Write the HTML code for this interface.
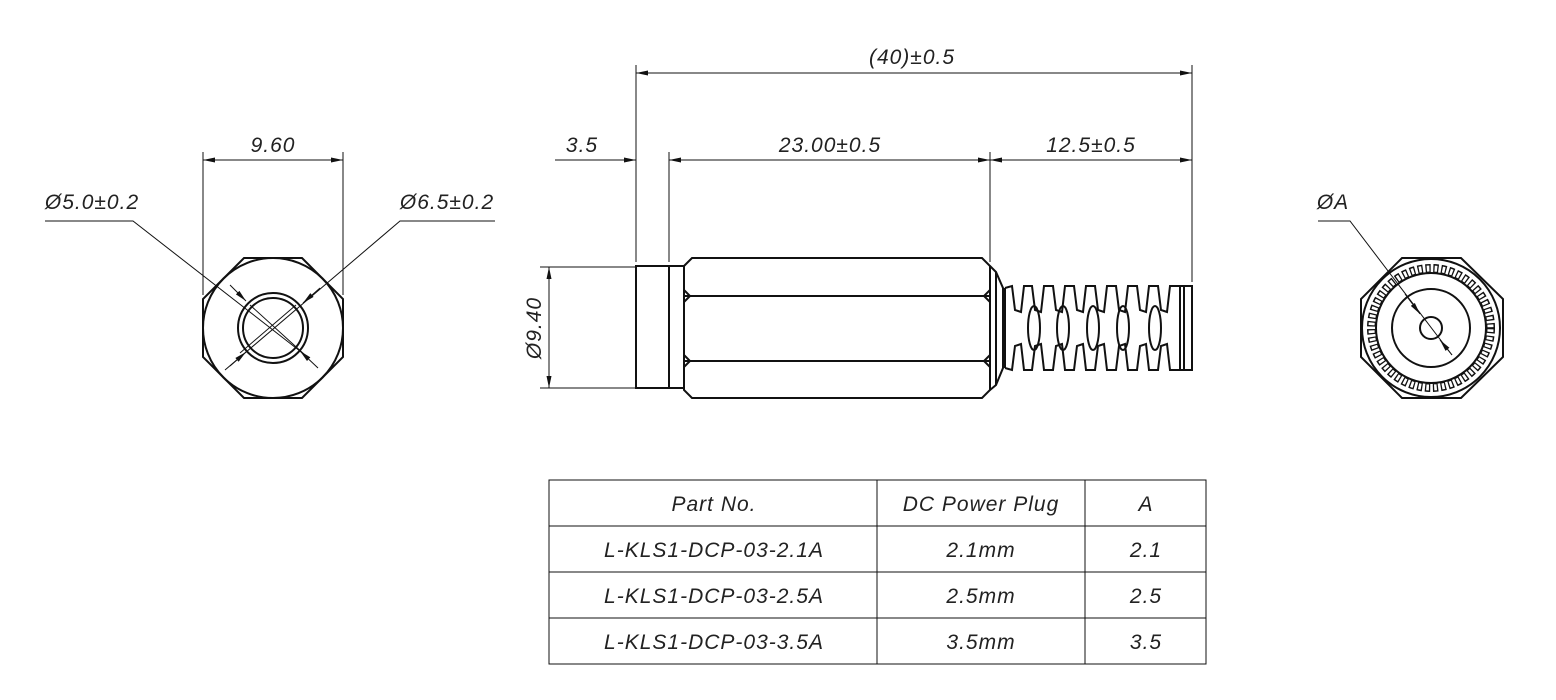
<!DOCTYPE html>
<html><head><meta charset="utf-8"><style>
html,body{margin:0;padding:0;background:#fff;width:1556px;height:700px;overflow:hidden}
svg text{font-family:"Liberation Sans",sans-serif;font-style:italic;font-size:21px;fill:#222;font-weight:normal;letter-spacing:1px}
</style></head><body>
<svg width="1556" height="700" viewBox="0 0 1556 700" xmlns="http://www.w3.org/2000/svg">
<defs>
<marker id="ar" viewBox="0 0 12 6" refX="12" refY="3" markerWidth="12" markerHeight="6" orient="auto-start-reverse" markerUnits="userSpaceOnUse"><path d="M0,0.5 L12,3 L0,5.5z" fill="#111"/></marker>
</defs>
<g stroke="#111" fill="none" stroke-width="1">
<line x1="636" y1="65" x2="636" y2="262"/>
<line x1="1192" y1="65" x2="1192" y2="282"/>
<line x1="669" y1="152" x2="669" y2="262"/>
<line x1="990" y1="152" x2="990" y2="262"/>
<line x1="636" y1="73" x2="1192" y2="73" marker-start="url(#ar)" marker-end="url(#ar)"/>
<line x1="555" y1="160" x2="636" y2="160" marker-end="url(#ar)"/>
<line x1="669" y1="160" x2="990" y2="160" marker-start="url(#ar)" marker-end="url(#ar)"/>
<line x1="990" y1="160" x2="1192" y2="160" marker-start="url(#ar)" marker-end="url(#ar)"/>
<line x1="540" y1="267" x2="636" y2="267"/>
<line x1="540" y1="388" x2="636" y2="388"/>
<line x1="549" y1="267" x2="549" y2="388" marker-start="url(#ar)" marker-end="url(#ar)"/>
<line x1="203" y1="152" x2="203" y2="295"/>
<line x1="343" y1="152" x2="343" y2="295"/>
<line x1="203" y1="160" x2="343" y2="160" marker-start="url(#ar)" marker-end="url(#ar)"/>
<polyline points="45,221 133,221 305,355"/>
<polyline points="495,221 400,221 225,370"/>
<line x1="320" y1="288" x2="303" y2="303" marker-end="url(#ar)"/>
<line x1="230" y1="366" x2="246" y2="352" marker-end="url(#ar)"/>
<line x1="318" y1="368" x2="300" y2="351" marker-end="url(#ar)"/>
<line x1="230" y1="285" x2="246" y2="301" marker-end="url(#ar)"/>
<polyline points="1318,221 1350,221 1452,355"/>
<line x1="1405" y1="294" x2="1420" y2="314" marker-end="url(#ar)"/>
<line x1="1452" y1="355" x2="1440" y2="340" marker-end="url(#ar)"/>
</g>
<g stroke="#111" fill="none" stroke-width="2">
<polygon points="244,258 302,258 343,299 343,357 302,398 244,398 203,357 203,299"/>
<circle cx="273" cy="328" r="70"/>
<circle cx="273" cy="328" r="35"/>
<circle cx="273" cy="328" r="30"/>
</g>
<g stroke="#111" fill="none" stroke-width="1">
<line x1="250" y1="305" x2="305" y2="355"/>
<line x1="296" y1="305" x2="240" y2="353"/>
</g>
<g stroke="#111" fill="none" stroke-width="2">
<rect x="636" y="266" width="48" height="122"/>
<line x1="669" y1="266" x2="669" y2="388"/>
<polygon points="684,266 692,258 982,258 990,266 990,390 982,398 692,398 684,390"/>
<line x1="684" y1="296" x2="990" y2="296"/>
<line x1="684" y1="361" x2="990" y2="361"/>
<polyline points="684,290 690,296 684,302"/>
<polyline points="990,290 984,296 990,302"/>
<polyline points="684,355 690,361 684,367"/>
<polyline points="990,355 984,361 990,367"/>
<polyline points="990,266 996,272 1003,288 1003,368 996,385 990,390"/>
<line x1="996" y1="272" x2="996" y2="385"/>
<path d="M1005,288 L1012,286 L1015,310 L1021,312 L1024,286 L1032,286 L1035,310 L1041,312 L1044,286 L1053,286 L1056,310 L1062,312 L1065,286 L1074,286 L1077,310 L1083,312 L1086,286 L1095,286 L1098,310 L1104,312 L1107,286 L1116,286 L1119,310 L1125,312 L1128,286 L1137,286 L1140,310 L1146,312 L1149,286 L1158,286 L1161,310 L1167,312 L1170,286 L1180,286"/>
<path d="M1005,368 L1012,370 L1015,346 L1021,344 L1024,370 L1032,370 L1035,346 L1041,344 L1044,370 L1053,370 L1056,346 L1062,344 L1065,370 L1074,370 L1077,346 L1083,344 L1086,370 L1095,370 L1098,346 L1104,344 L1107,370 L1116,370 L1119,346 L1125,344 L1128,370 L1137,370 L1140,346 L1146,344 L1149,370 L1158,370 L1161,346 L1167,344 L1170,370 L1180,370"/>
<line x1="1005" y1="288" x2="1005" y2="368"/>
<rect x="1180" y="286" width="12" height="84"/>
<line x1="1184" y1="286" x2="1184" y2="370"/>
<ellipse cx="1034" cy="328" rx="6" ry="22"/>
<ellipse cx="1063" cy="328" rx="6" ry="22"/>
<ellipse cx="1093" cy="328" rx="6" ry="22"/>
<ellipse cx="1123" cy="328" rx="6" ry="22"/>
<ellipse cx="1155" cy="328" rx="6" ry="22"/>
</g>
<g stroke="#111" fill="none" stroke-width="2">
<polygon points="1402,258 1461,258 1503,299 1503,357 1461,398 1402,398 1361,357 1361,299"/>
<circle cx="1431" cy="328" r="69"/>
<circle cx="1431" cy="328" r="39"/>
<circle cx="1431" cy="328" r="11"/>
</g>
<circle cx="1431" cy="328" r="59.5" fill="none" stroke="#111" stroke-width="9" stroke-dasharray="5.2 2.65"/>
<circle cx="1431" cy="328" r="59.5" fill="none" stroke="#fff" stroke-width="6" stroke-dasharray="2.6 5.25" stroke-dashoffset="-1.3"/>
<circle cx="1431" cy="328" r="55" fill="none" stroke="#111" stroke-width="2"/>
<text x="912" y="64" text-anchor="middle">(40)±0.5</text>
<text x="582" y="152" text-anchor="middle">3.5</text>
<text x="830" y="152" text-anchor="middle">23.00±0.5</text>
<text x="1091" y="152" text-anchor="middle">12.5±0.5</text>
<text x="273" y="152" text-anchor="middle">9.60</text>
<text x="92" y="209" text-anchor="middle">Ø5.0±0.2</text>
<text x="447" y="209" text-anchor="middle">Ø6.5±0.2</text>
<text x="1333" y="209" text-anchor="middle">ØA</text>
<text transform="translate(541,328) rotate(-90)" text-anchor="middle">Ø9.40</text>
<g stroke="#111" fill="none" stroke-width="1">
<rect x="549" y="480" width="657" height="184"/>
<line x1="549" y1="526" x2="1206" y2="526"/>
<line x1="549" y1="572" x2="1206" y2="572"/>
<line x1="549" y1="618" x2="1206" y2="618"/>
<line x1="877" y1="480" x2="877" y2="664"/>
<line x1="1085" y1="480" x2="1085" y2="664"/>
</g>
<g text-anchor="middle">
<text x="714" y="511">Part No.</text><text x="981" y="511">DC Power Plug</text><text x="1146" y="511">A</text>
<text x="714" y="557">L-KLS1-DCP-03-2.1A</text><text x="981" y="557">2.1mm</text><text x="1146" y="557">2.1</text>
<text x="714" y="603">L-KLS1-DCP-03-2.5A</text><text x="981" y="603">2.5mm</text><text x="1146" y="603">2.5</text>
<text x="714" y="649">L-KLS1-DCP-03-3.5A</text><text x="981" y="649">3.5mm</text><text x="1146" y="649">3.5</text>
</g>
</svg>
</body></html>
